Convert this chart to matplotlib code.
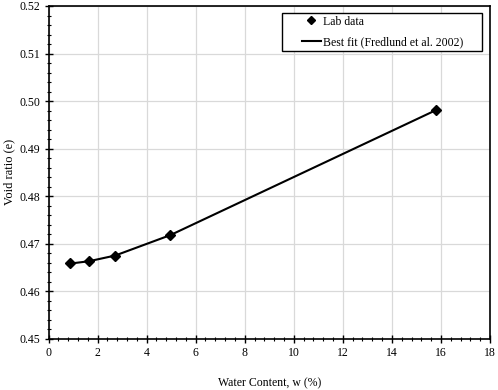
import matplotlib
matplotlib.use("Agg")
import matplotlib.pyplot as plt
from matplotlib.ticker import MultipleLocator, FormatStrFormatter
from matplotlib.patches import Rectangle

water_content = [0.88, 1.65, 2.72, 4.97, 15.80]
void_ratio = [0.4660, 0.4663, 0.4675, 0.4718, 0.4981]
fit_w = [0.88, 1.65, 2.72, 4.97, 15.80]
fit_e = [0.4658, 0.4663, 0.4675, 0.4718, 0.4981]

plt.rcParams['font.family'] = ['Liberation Serif', 'DejaVu Serif']
FS = 8.5

fig = plt.figure(figsize=(4.98, 3.90), dpi=100)
ax = fig.add_axes([48.5/498, 1 - 338.7/390, (490-48.5)/498, (338.7-6)/390])

ax.plot(fit_w, fit_e, color='black', lw=1.5, label='Best fit (Fredlund et al. 2002)', zorder=3)
ax.plot(water_content, void_ratio, linestyle='none', marker='D', ms=5.2, color='black',
        label='Lab data', zorder=4)

ax.set_xlim(0, 18)
ax.set_ylim(0.45, 0.52)
ax.xaxis.set_major_locator(MultipleLocator(2))
ax.xaxis.set_minor_locator(MultipleLocator(0.4))
ax.yaxis.set_major_locator(MultipleLocator(0.01))
ax.yaxis.set_minor_locator(MultipleLocator(0.002))
ax.yaxis.set_major_formatter(FormatStrFormatter('%.2f'))
ax.grid(True, which='major', color='#d9d9d9', lw=0.9)
ax.set_axisbelow(True)
ax.tick_params(which='major', direction='inout', length=6, width=1, labelsize=FS, pad=3)
ax.tick_params(which='minor', direction='inout', length=3.5, width=0.8)
for s in ax.spines.values():
    s.set_linewidth(1.2)
    s.set_color('black')

ax.set_xlabel('Water Content, w (%)', fontsize=FS, labelpad=13)
ax.set_ylabel('Void ratio (e)', fontsize=9, labelpad=3)

# legend frame
ax.add_patch(Rectangle((0.528, 0.8647), 0.9826 - 0.528, 0.980 - 0.8647, transform=ax.transAxes,
                       facecolor='white', edgecolor='black', lw=1.0, zorder=5, clip_on=False))
h, l = ax.get_legend_handles_labels()
leg = ax.legend(h[::-1], l[::-1], loc='center', bbox_to_anchor=(0.757, 0.922), fontsize=FS,
                frameon=False, handlelength=1.6, handletextpad=0.2, borderpad=0,
                labelspacing=0.75, markerscale=0.75)
leg.set_zorder(6)

fig.savefig('out.png', dpi=100)
